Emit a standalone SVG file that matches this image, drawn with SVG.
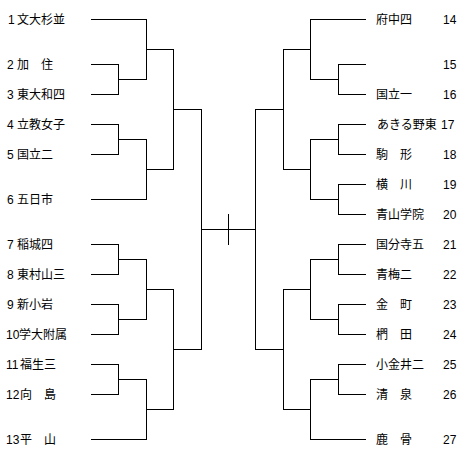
<svg xmlns="http://www.w3.org/2000/svg" width="465" height="457" viewBox="0 0 465 457">
<style>
.ln{fill:none;stroke:#000;stroke-width:1;shape-rendering:crispEdges}
text{font-family:"Liberation Sans","Noto Sans CJK JP",sans-serif;font-size:12px;fill:#000}
</style>
<rect width="465" height="457" fill="#fff"/>
<g id="connectors" class="ln">
<path d="M91 19.5H146.5M91 64.5H118.5M91 94.5H118.5M118.5 64V95M118 79.5H146.5M146.5 19V80M146 49.5H173.5"/>
<path d="M91 124.5H118.5M91 154.5H118.5M118.5 124V155M118 139.5H146.5M91 199.5H146.5M146.5 139V200M146 169.5H173.5"/>
<path d="M173.5 49V170M173 109.5H201.5"/>
<path d="M91 244.5H118.5M91 274.5H118.5M118.5 244V275M118 259.5H146.5M91 304.5H118.5M91 334.5H118.5M118.5 304V335M118 319.5H146.5M146.5 259V320M146 289.5H173.5"/>
<path d="M91 364.5H118.5M91 394.5H118.5M118.5 364V395M118 379.5H146.5M91 439.5H146.5M146.5 379V440M146 409.5H173.5"/>
<path d="M173.5 289V410M173 349.5H201.5"/>
<path d="M201.5 109V350M201 229.5H255.5M228.5 214V245"/>
<path d="M255.5 109V350M255 109.5H283.5M255 349.5H283.5"/>
<path d="M283.5 49V170M283 49.5H310.5M283 169.5H310.5"/>
<path d="M310.5 19V80M310 19.5H366M310 79.5H338.5M338.5 64V95M338 64.5H366M338 94.5H366"/>
<path d="M310.5 139V200M310 139.5H338.5M310 199.5H338.5M338.5 124V155M338 124.5H366M338 154.5H366M338.5 184V215M338 184.5H366M338 214.5H366"/>
<path d="M283.5 289V410M283 289.5H310.5M283 409.5H310.5"/>
<path d="M310.5 259V320M310 259.5H338.5M310 319.5H338.5M338.5 244V275M338 244.5H366M338 274.5H366M338.5 304V335M338 304.5H366M338 334.5H366"/>
<path d="M310.5 379V440M310 379.5H338.5M310 439.5H366M338.5 364V395M338 364.5H366M338 394.5H366"/>
</g>
<g id="t1"><text y="23.5"><tspan x="8">1</tspan><tspan x="17">文大杉並</tspan></text></g>
<g id="t2"><text y="68.5"><tspan x="7">2</tspan><tspan x="17">加　住</tspan></text></g>
<g id="t3"><text y="98.5"><tspan x="7">3</tspan><tspan x="17">東大和四</tspan></text></g>
<g id="t4"><text y="128.5"><tspan x="7">4</tspan><tspan x="17">立教女子</tspan></text></g>
<g id="t5"><text y="158.5"><tspan x="7">5</tspan><tspan x="17">国立二</tspan></text></g>
<g id="t6"><text y="203.5"><tspan x="7">6</tspan><tspan x="17">五日市</tspan></text></g>
<g id="t7"><text y="248.5"><tspan x="7">7</tspan><tspan x="17">稲城四</tspan></text></g>
<g id="t8"><text y="278.5"><tspan x="7">8</tspan><tspan x="17">東村山三</tspan></text></g>
<g id="t9"><text y="308.5"><tspan x="7">9</tspan><tspan x="17">新小岩</tspan></text></g>
<g id="t10"><text y="338.5"><tspan x="6">10</tspan><tspan x="19">学大附属</tspan></text></g>
<g id="t11"><text y="368.5"><tspan x="6">11</tspan><tspan x="20">福生三</tspan></text></g>
<g id="t12"><text y="398.5"><tspan x="6">12</tspan><tspan x="20">向　島</tspan></text></g>
<g id="t13"><text y="443.5"><tspan x="6">13</tspan><tspan x="20">平　山</tspan></text></g>
<g id="t14"><text y="23.5"><tspan x="376">府中四</tspan><tspan x="443">14</tspan></text></g>
<g id="t15"><text y="68.5"><tspan x="443">15</tspan></text></g>
<g id="t16"><text y="98.5"><tspan x="376">国立一</tspan><tspan x="443">16</tspan></text></g>
<g id="t17"><text y="128.5"><tspan x="377">あきる野東</tspan><tspan x="441">17</tspan></text></g>
<g id="t18"><text y="158.5"><tspan x="376">駒　形</tspan><tspan x="443">18</tspan></text></g>
<g id="t19"><text y="188.5"><tspan x="376">横　川</tspan><tspan x="443">19</tspan></text></g>
<g id="t20"><text y="218.5"><tspan x="376">青山学院</tspan><tspan x="443">20</tspan></text></g>
<g id="t21"><text y="248.5"><tspan x="376">国分寺五</tspan><tspan x="443">21</tspan></text></g>
<g id="t22"><text y="278.5"><tspan x="376">青梅二</tspan><tspan x="443">22</tspan></text></g>
<g id="t23"><text y="308.5"><tspan x="376">金　町</tspan><tspan x="443">23</tspan></text></g>
<g id="t24"><text y="338.5"><tspan x="376">椚　田</tspan><tspan x="443">24</tspan></text></g>
<g id="t25"><text y="368.5"><tspan x="376">小金井二</tspan><tspan x="443">25</tspan></text></g>
<g id="t26"><text y="398.5"><tspan x="376">清　泉</tspan><tspan x="443">26</tspan></text></g>
<g id="t27"><text y="443.5"><tspan x="376">鹿　骨</tspan><tspan x="443">27</tspan></text></g>
</svg>
